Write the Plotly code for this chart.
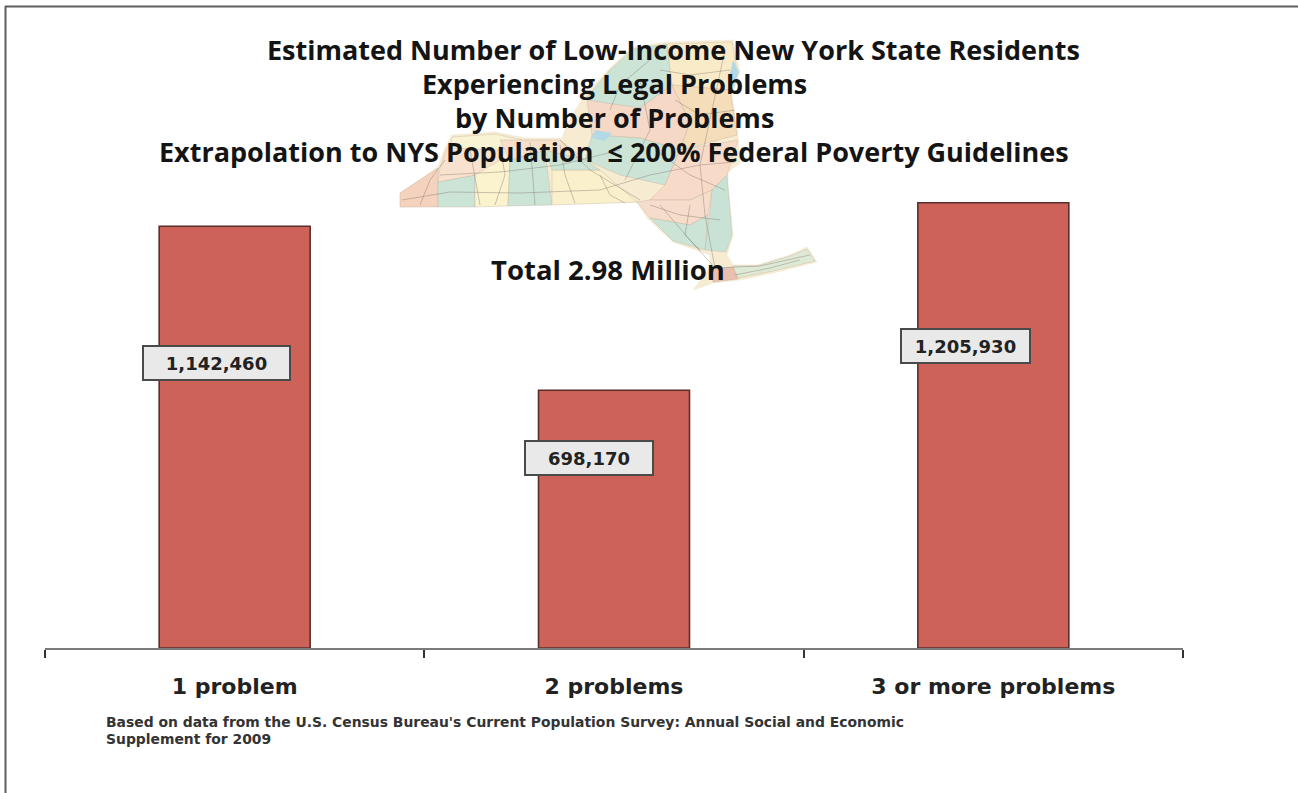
import plotly.graph_objects as go

categories = ["1 problem", "2 problems", "3 or more problems"]
residents = [1142460, 698170, 1205930]
value_labels = ["1,142,460", "698,170", "1,205,930"]
title_lines = [
    "Estimated Number of Low-Income New York State Residents",
    "Experiencing Legal Problems",
    "by Number of Problems",
    "Extrapolation to NYS Population  ≤ 200% Federal Poverty Guidelines",
]
total_text = "Total 2.98 Million"
source_lines = [
    "Based on data from the U.S. Census Bureau's Current Population Survey: Annual Social and Economic",
    "Supplement for 2009",
]

W, H = 1298, 793
L, R, T, B = 45, 1183, 20, 648
Y_TOP = 1701000


def px(x):
    return (x - L) / (R - L)


def py(y):
    return (B - y) / (B - T)


def poly(points):
    return "M " + " L ".join(f"{px(x):.5f},{py(y):.5f}" for x, y in points) + " Z"


def line_path(points):
    return "M " + " L ".join(f"{px(x):.5f},{py(y):.5f}" for x, y in points)


outline = [(400, 207), (400, 193), (438, 167), (445, 148), (452, 135), (495, 132), (525, 138), (562, 138),
           (568, 122), (585, 95), (610, 68), (633, 47), (667, 42), (733, 40), (740, 72), (732, 95), (738, 135),
           (740, 163), (728, 172), (728, 185), (733, 235), (727, 255), (733, 265), (757, 265), (790, 255),
           (807, 247), (817, 262), (773, 273), (740, 280), (713, 283), (693, 290), (710, 268), (710, 255),
           (673, 242), (647, 218), (637, 202), (600, 203)]
patches = [
    ("#CBE4D6", [(610, 70), (633, 49), (667, 44), (672, 85), (640, 108), (600, 108), (587, 97)]),
    ("#FAEBC8", [(667, 44), (732, 42), (737, 72), (730, 90), (672, 85)]),
    ("#F6D8C6", [(587, 100), (640, 108), (672, 85), (690, 122), (680, 150), (640, 138), (592, 135)]),
    ("#F6DDBA", [(672, 85), (730, 90), (737, 135), (700, 145), (680, 150), (690, 122)]),
    ("#CBE4D6", [(592, 135), (640, 138), (680, 150), (665, 185), (620, 175), (585, 160)]),
    ("#F8DAC8", [(680, 150), (738, 140), (727, 175), (712, 190), (690, 200), (650, 200), (665, 185)]),
    ("#C8E3D6", [(712, 190), (727, 175), (732, 235), (726, 252), (705, 250), (710, 210)]),
    ("#F6DCCA", [(637, 202), (650, 200), (690, 200), (712, 190), (708, 215), (690, 225), (650, 218)]),
    ("#CBE4D6", [(650, 218), (690, 225), (708, 215), (705, 250), (673, 241)]),
    ("#F4D2BE", [(400, 207), (400, 193), (438, 168), (438, 207)]),
    ("#CBE4D6", [(438, 182), (475, 175), (475, 207), (438, 207)]),
    ("#FAF3CE", [(475, 160), (510, 160), (508, 206), (475, 207)]),
    ("#F8E2CE", [(440, 168), (447, 148), (500, 140), (500, 160), (475, 175), (438, 182)]),
    ("#F8F3D2", [(452, 137), (495, 134), (522, 140), (500, 150), (450, 148)]),
    ("#CBE4D6", [(510, 160), (545, 150), (552, 205), (508, 206)]),
    ("#F6E0CA", [(500, 140), (560, 140), (585, 160), (545, 150), (510, 160)]),
    ("#FAF0CC", [(552, 170), (600, 170), (637, 202), (552, 205)]),
    ("#CBE4D6", [(545, 150), (585, 160), (600, 170), (552, 170)]),
    ("#DFEAD6", [(733, 266), (757, 266), (790, 256), (807, 249), (815, 261), (773, 271), (738, 278)]),
    ("#E9BFB0", [(712, 270), (733, 267), (738, 279), (713, 282)]),
]
lakes = [
    [(733, 60), (739, 72), (733, 88), (729, 78)],
    [(595, 130), (612, 133), (605, 141), (592, 138)],
]
roads = [
    [(402, 200), (450, 192), (520, 193), (600, 190), (650, 175), (700, 165), (735, 162)],
    [(560, 140), (590, 170), (640, 200)],
    [(700, 165), (712, 110), (725, 50)],
    [(700, 165), (705, 215), (715, 268)],
    [(625, 180), (650, 130), (640, 80)],
    [(470, 150), (480, 205)],
    [(530, 142), (535, 205)],
    [(660, 205), (690, 240), (715, 268)],
    [(715, 268), (760, 266), (810, 255)],
    [(440, 175), (500, 172), (560, 165), (620, 150)],
    [(420, 205), (430, 180), (445, 160)],
    [(500, 145), (505, 175), (495, 205)],
    [(560, 145), (565, 175), (575, 203)],
    [(600, 175), (610, 195), (625, 203)],
    [(610, 110), (620, 85), (650, 60)],
    [(660, 70), (690, 75), (730, 70)],
    [(675, 100), (700, 115), (735, 110)],
    [(655, 150), (690, 175), (725, 190)],
    [(650, 205), (680, 215), (720, 220)],
    [(690, 205), (685, 235), (700, 250)],
    [(735, 275), (770, 268), (800, 260)],
]

shapes = [dict(type="path", xref="paper", yref="paper", path=poly(outline), layer="below",
               fillcolor="#F7ECD2", line=dict(color="#EFE6D2", width=0.5))]
for color, pts in patches:
    shapes.append(dict(type="path", xref="paper", yref="paper", path=poly(pts), layer="below",
                       fillcolor=color, line=dict(color="rgba(190,170,150,0.6)", width=0.6)))
for pts in lakes:
    shapes.append(dict(type="path", xref="paper", yref="paper", path=poly(pts), layer="below",
                       fillcolor="#B4D9E6", line=dict(width=0)))
for pts in roads:
    shapes.append(dict(type="path", xref="paper", yref="paper", path=line_path(pts), layer="below",
                       line=dict(color="rgba(130,115,110,0.5)", width=0.8)))
# image frame
shapes.append(dict(type="line", xref="paper", yref="paper", x0=px(5), x1=px(W), y0=py(6.5), y1=py(6.5),
                   line=dict(color="#5f5f5f", width=2)))
shapes.append(dict(type="line", xref="paper", yref="paper", x0=px(5.5), x1=px(5.5), y0=py(6), y1=py(H),
                   line=dict(color="#5f5f5f", width=2)))

fig = go.Figure(go.Bar(
    x=categories, y=residents, width=0.398,
    marker=dict(color="#CC6258", line=dict(color="#5A2E2C", width=1.6)),
    hoverinfo="skip",
))

annotations = []
title_pos = [(673, 49), (614, 83), (614, 117), (614, 151)]
for text, (x, y) in zip(title_lines, title_pos):
    annotations.append(dict(text=f"<b>{text}</b>", x=px(x), y=py(y), xref="paper", yref="paper",
                            showarrow=False, xanchor="center", yanchor="middle",
                            font=dict(family="Open Sans", size=27, color="#141414")))
annotations.append(dict(text=f"<b>{total_text}</b>", x=px(608), y=py(269), xref="paper", yref="paper",
                        showarrow=False, xanchor="center", yanchor="middle",
                        font=dict(family="Open Sans", size=27.5, color="#141414")))
for text, y in zip(source_lines, (722, 739)):
    annotations.append(dict(text=f"<b>{text}</b>", x=px(104), y=py(y), xref="paper", yref="paper",
                            showarrow=False, xanchor="left", yanchor="middle",
                            font=dict(family="DejaVu Sans", size=13.9, color="#333333")))

label_style = [(-18, -137, 145), (-25.5, -67.5, 126), (-28, -143, 127)]
for cat, val, text, (dx, dy, w) in zip(categories, residents, value_labels, label_style):
    annotations.append(dict(text=f"<b>{text}</b>", x=cat, y=val, xref="x", yref="y", xshift=dx, yshift=dy,
                            showarrow=False, width=w, height=32, align="center", valign="middle",
                            bgcolor="#E9E9E9", bordercolor="#4A4A4A", borderwidth=2, borderpad=0,
                            font=dict(family="DejaVu Sans", size=18, color="#222222")))

fig.update_layout(
    width=W, height=H, autosize=False,
    margin=dict(l=L, r=W - R, t=T, b=H - B, pad=0),
    paper_bgcolor="white", plot_bgcolor="rgba(0,0,0,0)",
    showlegend=False, shapes=shapes, annotations=annotations,
    xaxis=dict(type="category", range=[-0.5, 2.5], tickson="boundaries", ticks="outside", ticklen=8,
               tickwidth=2, tickcolor="#333333", showline=True, linecolor="#7A7A7A", linewidth=2,
               showgrid=False, zeroline=False, ticklabelstandoff=18,
               tickfont=dict(family="DejaVu Sans", size=22, color="#222222", weight="bold")),
    yaxis=dict(range=[0, Y_TOP], visible=False, showgrid=False, zeroline=False),
)

fig.write_html("out.html", config=dict(displayModeBar=False),
               post_script="document.body.style.margin='0';")
